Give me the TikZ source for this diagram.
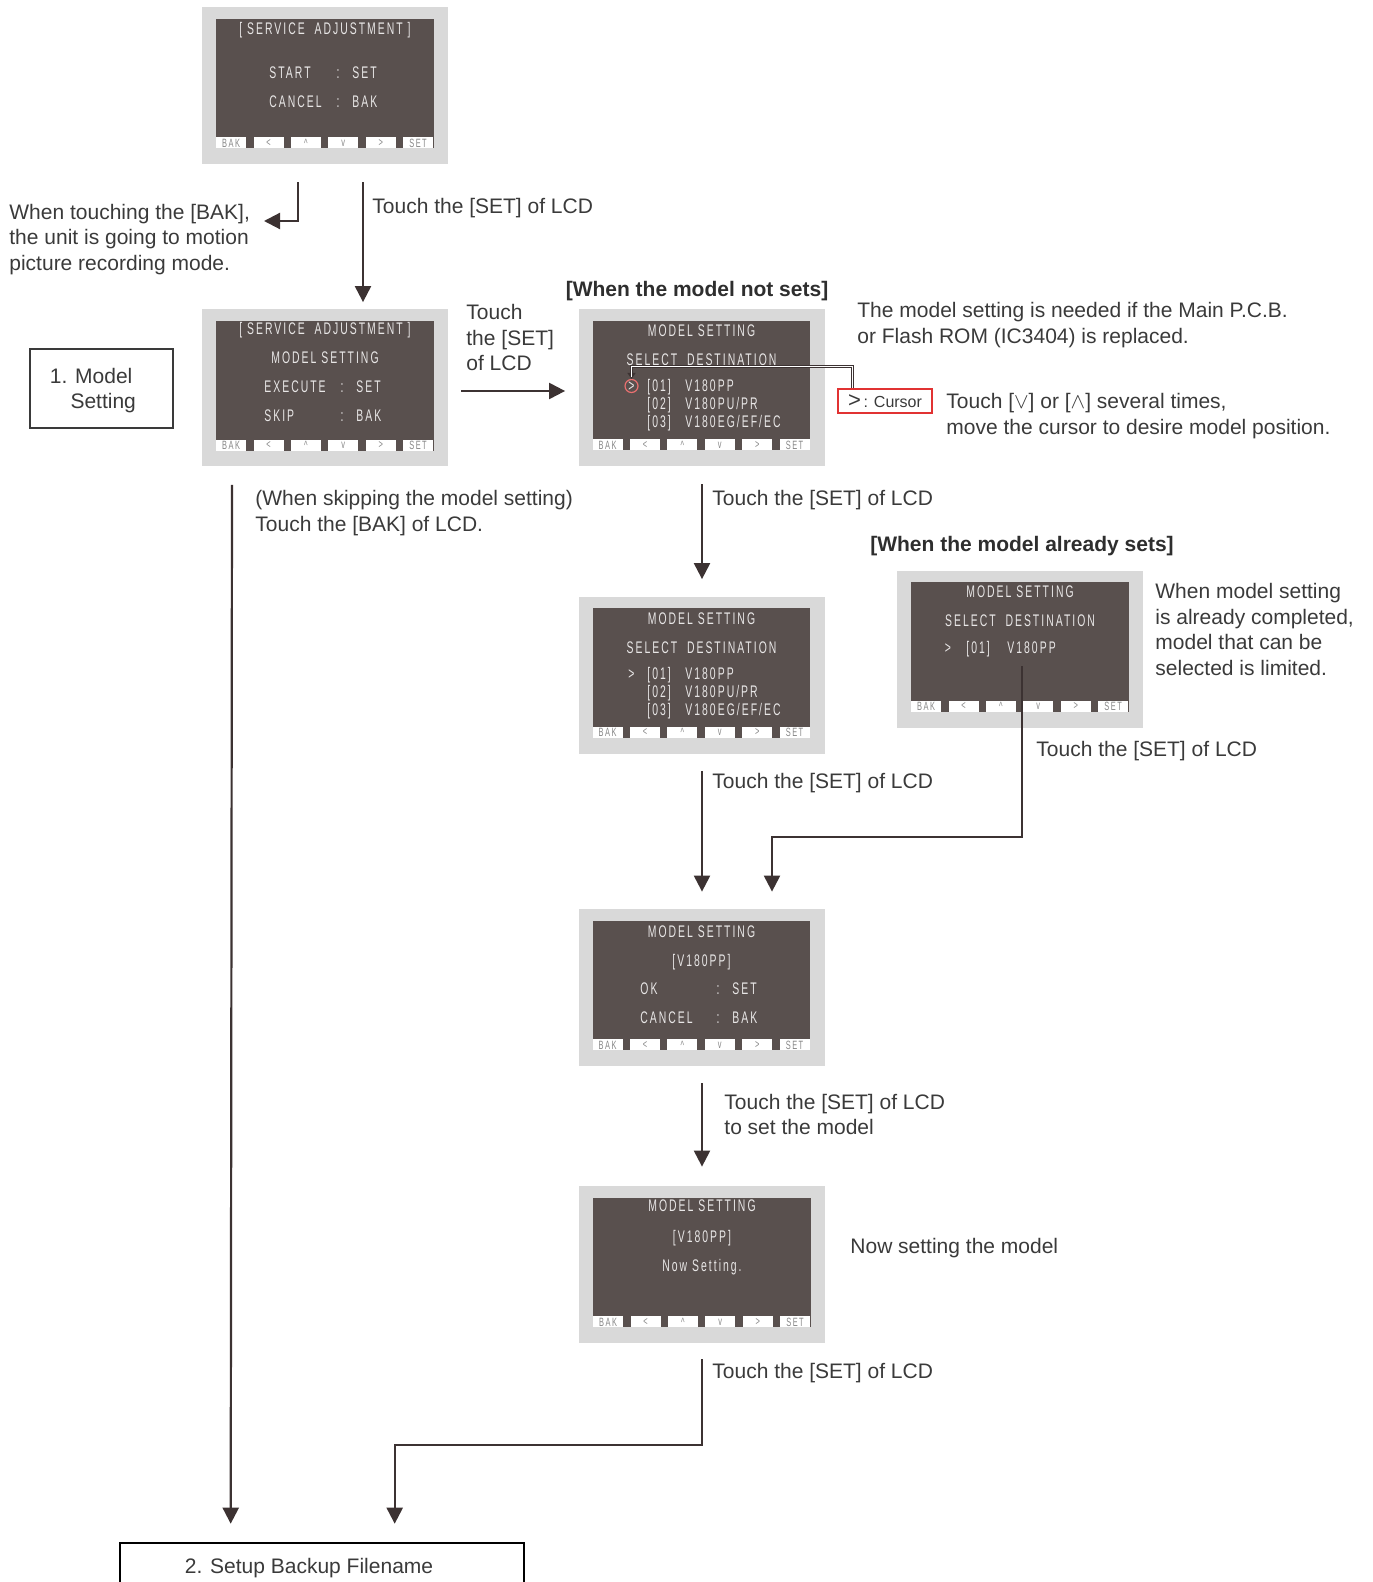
\documentclass[tikz,border=0pt]{standalone}
\usepackage{fontspec}
\setmainfont{Liberation Sans}
\newfontfamily\lcdfont[FakeStretch=0.62,LetterSpace=12]{Liberation Sans}
\usetikzlibrary{arrows.meta,positioning,calc}

\definecolor{framegray}{RGB}{217,217,217}
\definecolor{lcdbrown}{RGB}{89,80,78}
\definecolor{lcdink}{RGB}{232,230,230}
\definecolor{keygray}{RGB}{135,135,135}
\definecolor{inkgray}{RGB}{58,58,58}
\definecolor{arrowink}{RGB}{60,50,50}
\definecolor{cursorred}{RGB}{225,50,50}

% one LCD screen: grey frame, dark display and the key row
\newcommand{\lcd}[2]{%
  \node[lcdbox] (#1) at (#2) {};
  \fill[lcdbrown] ($(#1.north west)+(14.5,12)$) rectangle ($(#1.south east)+(-14.5,-16)$);
  \foreach \k [count=\i from 0] in {BAK,<,\textasciicircum,v,>,SET}
    \node[lcdkey] (#1key\i) at ($(#1.south west)+(29.5+\i*37.4,-21.5)$) {\k};
}

\begin{document}
\begin{tikzpicture}[
  x=0.5pt, y=-0.5pt,
  lcdbox/.style={fill=framegray, minimum width=123pt, minimum height=78.5pt, inner sep=0pt},
  lcdkey/.style={fill=white, minimum width=15pt, minimum height=5.5pt, inner sep=0pt, text=keygray, font=\lcdfont\fontsize{6}{6}\selectfont},
  lcdtxt/.style={text=lcdink, inner sep=0pt, text height=6pt, text depth=0pt, font=\lcdfont\fontsize{8.4}{9}\selectfont},
  lbl/.style={text=inkgray, align=left, anchor=west, inner sep=0pt, yshift=-1pt, font=\fontsize{10.5}{12.8}\selectfont},
  hdr/.style={text=inkgray!80!black, inner sep=0pt, yshift=-1pt, font=\bfseries\fontsize{10.5}{12.8}\selectfont},
  stepbox/.style={draw=inkgray, line width=1pt, inner sep=0pt, text=inkgray, font=\fontsize{10.5}{12.8}\selectfont},
  arr/.style={draw=arrowink, line width=1.1pt, -{Triangle[width=8pt,length=8pt]}},
  calloutdark/.style={draw=arrowink, line width=1.6pt, -{Triangle[width=4pt,length=3pt]}},
  calloutlight/.style={draw=white, line width=0.6pt, shorten >=1pt}
]
\useasboundingbox (0,0) rectangle (1372,1582);

% Screen 1: service adjustment start
\lcd{s1}{325,85.5}
\node[lcdtxt] (s1t1) at (325,29) {[\ SERVICE\ \ ADJUSTMENT\ ]};
\node[lcdtxt, anchor=west] (s1t2) at (269,73) {START};
\node[lcdtxt] (s1t3) at (338,73) {:};
\node[lcdtxt, anchor=west] (s1t4) at (352,73) {SET};
\node[lcdtxt, anchor=west] (s1t5) at (269,102) {CANCEL};
\node[lcdtxt] (s1t6) at (338,102) {:};
\node[lcdtxt, anchor=west] (s1t7) at (352,102) {BAK};

% Screen 2: model setting menu
\lcd{s2}{325,388}
\node[lcdtxt] (s2t1) at (325,329) {[\ SERVICE\ \ ADJUSTMENT\ ]};
\node[lcdtxt] (s2t2) at (325,358) {MODEL SETTING};
\node[lcdtxt, anchor=west] (s2t3) at (264,387) {EXECUTE};
\node[lcdtxt] (s2t4) at (342,387) {:};
\node[lcdtxt, anchor=west] (s2t5) at (356,387) {SET};
\node[lcdtxt, anchor=west] (s2t6) at (264,416) {SKIP};
\node[lcdtxt] (s2t7) at (342,416) {:};
\node[lcdtxt, anchor=west] (s2t8) at (356,416) {BAK};

% Screen 3: destination list, model not set
\lcd{s3}{701.5,387.5}
\node[lcdtxt] (s3t1) at (701.5,331) {MODEL SETTING};
\node[lcdtxt] (s3t2) at (701.5,360) {SELECT\ \ DESTINATION};
\node[lcdtxt] (s3t3) at (631.5,386) {>};
\node[lcdtxt, anchor=west] (s3t4) at (647,386) {[01]};
\node[lcdtxt, anchor=west] (s3t5) at (685,386) {V180PP};
\node[lcdtxt, anchor=west] (s3t6) at (647,404) {[02]};
\node[lcdtxt, anchor=west] (s3t7) at (685,404) {V180PU/PR};
\node[lcdtxt, anchor=west] (s3t8) at (647,422) {[03]};
\node[lcdtxt, anchor=west] (s3t9) at (685,422) {V180EG/EF/EC};
\node[draw=cursorred!70, circle, line width=0.6pt, minimum size=6.5pt, inner sep=0pt] (curmark) at (631.5,386) {};

% Screen 4: destination list
\lcd{s4}{701.5,675}
\node[lcdtxt] (s4t1) at (701.5,618.5) {MODEL SETTING};
\node[lcdtxt] (s4t2) at (701.5,647.5) {SELECT\ \ DESTINATION};
\node[lcdtxt] (s4t3) at (631.5,673.5) {>};
\node[lcdtxt, anchor=west] (s4t4) at (647,673.5) {[01]};
\node[lcdtxt, anchor=west] (s4t5) at (685,673.5) {V180PP};
\node[lcdtxt, anchor=west] (s4t6) at (647,691.5) {[02]};
\node[lcdtxt, anchor=west] (s4t7) at (685,691.5) {V180PU/PR};
\node[lcdtxt, anchor=west] (s4t8) at (647,709.5) {[03]};
\node[lcdtxt, anchor=west] (s4t9) at (685,709.5) {V180EG/EF/EC};

% Screen 5: model already set
\lcd{s5}{1020,649}
\node[lcdtxt] (s5t1) at (1020,591) {MODEL SETTING};
\node[lcdtxt] (s5t2) at (1020,620) {SELECT\ \ DESTINATION};
\node[lcdtxt] (s5t3) at (948,647) {>};
\node[lcdtxt, anchor=west] (s5t4) at (966,647) {[01]};
\node[lcdtxt, anchor=west] (s5t5) at (1007,647) {V180PP};

% Screen 6: confirm
\lcd{s6}{701.5,987.5}
\node[lcdtxt] (s6t1) at (701.5,931) {MODEL SETTING};
\node[lcdtxt] (s6t2) at (701.5,960) {[V180PP]};
\node[lcdtxt, anchor=west] (s6t3) at (640,988) {OK};
\node[lcdtxt] (s6t4) at (718,988) {:};
\node[lcdtxt, anchor=west] (s6t5) at (732,988) {SET};
\node[lcdtxt, anchor=west] (s6t6) at (640,1017) {CANCEL};
\node[lcdtxt] (s6t7) at (718,1017) {:};
\node[lcdtxt, anchor=west] (s6t8) at (732,1017) {BAK};

% Screen 7: now setting
\lcd{s7}{702,1264.5}
\node[lcdtxt] (s7t1) at (702,1205) {MODEL SETTING};
\node[lcdtxt] (s7t2) at (702,1236) {[V180PP]};
\node[lcdtxt] (s7t3) at (702,1265) {Now Setting.};

% boxes
\node[stepbox, minimum width=71.5pt, minimum height=39.5pt] (modelbox) at (101.5,388.5) {};
\node[lbl] (modeltxt) at (49.5,388.5) {1. Model\\\hspace*{10.3pt}Setting};
\node[stepbox, draw=black, line width=1.3pt, minimum width=202pt, minimum height=23pt] (backup) at (322,1566) {};
\node[lbl, anchor=center] (backuptxt) at (309,1566) {2. Setup Backup Filename};
\node[draw=cursorred, line width=0.8pt, fill=white, minimum width=47pt, minimum height=12pt, inner sep=0pt, text=inkgray, font=\fontsize{8}{8}\selectfont] (cursor) at (885,401) {{\fontsize{11}{11}\selectfont >}\,: Cursor};

% texts
\node[lbl] (baknote) at (9,237.5) {When touching the [BAK],\\the unit is going to motion\\picture recording mode.};
\node[lbl] (setlbl1) at (372,206) {Touch the [SET] of LCD};
\node[lbl] (setlbl2) at (466,335.5) {Touch\\the [SET]\\of LCD};
\node[hdr] (hdrnot) at (697,289) {[When the model not sets]};
\node[lbl] (needlbl) at (857,323) {The model setting is needed if the Main P.C.B.\\or Flash ROM (IC3404) is replaced.};
\node[lbl] (movelbl) at (946,414) {Touch [$\vee$] or [$\wedge$] several times,\\move the cursor to desire model position.};
\node[lbl] (skiplbl) at (255,511) {(When skipping the model setting)\\Touch the [BAK] of LCD.};
\node[lbl] (setlbl3) at (712,498) {Touch the [SET] of LCD};
\node[hdr] (hdralready) at (1022,544) {[When the model already sets]};
\node[lbl] (limitlbl) at (1155,627.5) {When model setting\\is already completed,\\model that can be\\selected is limited.};
\node[lbl] (setlbl4) at (1036,749) {Touch the [SET] of LCD};
\node[lbl] (setlbl5) at (712,781) {Touch the [SET] of LCD};
\node[lbl] (setlbl6) at (724,1112.5) {Touch the [SET] of LCD\\to set the model};
\node[lbl] (nowlbl) at (850,1246) {Now setting the model};
\node[lbl] (setlbl7) at (712,1371) {Touch the [SET] of LCD};

% cursor callout
\draw[calloutdark] ($(cursor.north west)+(15,0)$) |- ($(curmark.north)+(0,-12)$) -- (curmark.north);
\draw[calloutlight] ($(cursor.north west)+(15,0)$) |- ($(curmark.north)+(0,-12)$) -- (curmark.north);

% flow arrows
\coordinate (bakend) at (264,221);
\draw[arr] ($(s1.south)+(38,18)$) -- ($(s2.north)+(38,-7)$);
\draw[arr] ($(s1.south)+(-27,18)$) |- (bakend);
\draw[arr] ($(s2.east)+(13,3)$) -- ($(s3.west)+(-13,3.5)$);
\draw[arr] ($(s2.south)+(-93,18)$) -- ($(backup.north west)+(112,-18)$);
\draw[arr] ($(s3.south)+(0.5,18)$) -- ($(s4.north)+(0.5,-17)$);
\draw[arr] ($(s4.south)+(0.5,17)$) -- ($(s6.north)+(0.5,-17)$);
\draw[arr] ($(s5.center)+(2,17)$) |- ($(s6.north)+(70.5,-72)$) -- ($(s6.north)+(70.5,-17)$);
\draw[arr] ($(s6.south)+(0.5,17)$) -- ($(s7.north)+(0,-19)$);
\draw[arr] ($(s7.south)+(0,16)$) |- ($(backup.north west)+(276,-97)$) -- ($(backup.north west)+(276,-18)$);

\end{tikzpicture}
\end{document}
